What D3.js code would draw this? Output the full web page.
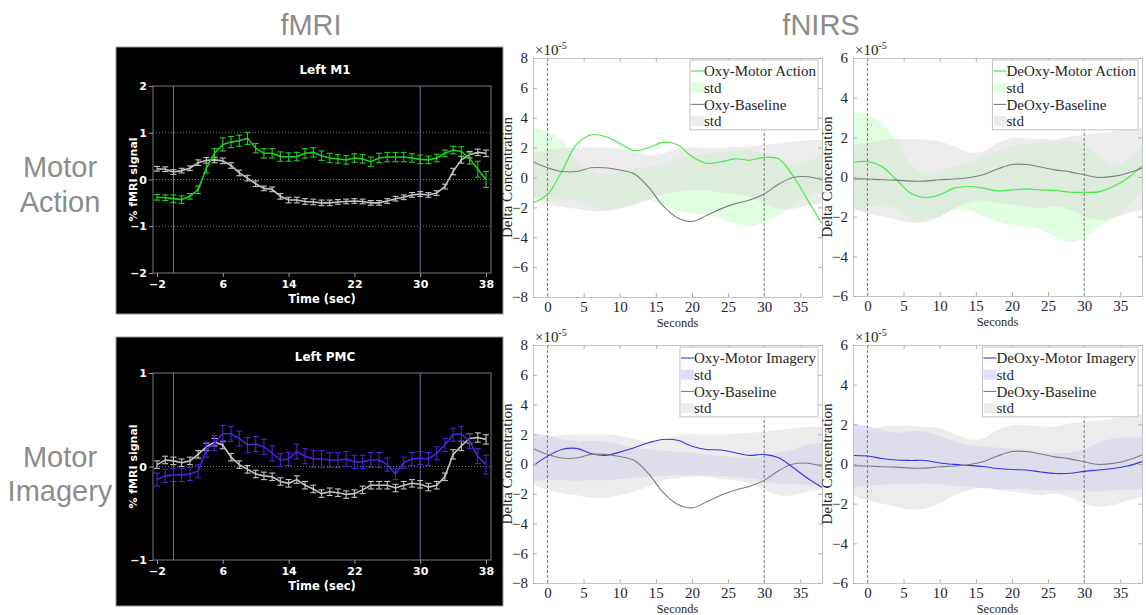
<!DOCTYPE html>
<html>
<head>
<meta charset="utf-8">
<script src="https://cdn.jsdelivr.net/npm/d3@7"></script>
<style>
body { margin: 0; background: #fff; }
svg { display: block; }
</style>
</head>
<body>
<script>
// ---- fMRI data (percent signal, one point per second from -2 to 38) ----
const fmriTime = d3.range(-2, 39)
const fmriTicks = [-2, 6, 14, 22, 30, 38]

const m1Action = [-0.38,-0.39,-0.41,-0.43,-0.36,-0.22,0.24,0.56,0.75,0.8,0.83,0.88,
  0.67,0.56,0.56,0.49,0.48,0.49,0.56,0.58,0.51,0.46,0.44,0.42,0.46,0.44,0.38,0.46,0.48,0.48,0.48,0.46,0.43,0.42,0.46,0.56,0.63,0.6,0.45,0.22,0.0]
const m1ActionErr = [0.06,0.06,0.08,0.08,0.06,0.08,0.1,0.1,0.14,0.12,0.12,0.13,
  0.1,0.1,0.1,0.1,0.09,0.09,0.1,0.1,0.1,0.1,0.09,0.09,0.09,0.09,0.1,0.1,0.1,0.1,0.1,0.09,0.09,0.08,0.08,0.07,0.08,0.1,0.12,0.17,0.17]
const m1Base = [0.23,0.22,0.16,0.19,0.24,0.36,0.41,0.42,0.40,0.30,0.14,0.03,
  -0.09,-0.19,-0.21,-0.36,-0.44,-0.44,-0.47,-0.48,-0.5,-0.5,-0.48,-0.47,-0.46,-0.47,-0.5,-0.5,-0.46,-0.41,-0.38,-0.33,-0.31,-0.33,-0.29,-0.15,0.17,0.42,0.53,0.58,0.56]
const m1BaseErr = [0.05,0.05,0.05,0.05,0.05,0.06,0.06,0.06,0.06,0.06,0.06,0.06,
  0.06,0.05,0.05,0.06,0.06,0.06,0.06,0.06,0.06,0.06,0.05,0.05,0.05,0.05,0.05,0.05,0.05,0.05,0.05,0.05,0.05,0.05,0.05,0.05,0.07,0.07,0.07,0.07,0.07]

const pmcImagery = [-0.14,-0.10,-0.09,-0.09,-0.08,-0.05,0.18,0.25,0.35,0.35,0.30,0.23,
  0.24,0.21,0.14,0.07,0.08,0.16,0.11,0.08,0.08,0.07,0.07,0.08,0.05,0.05,0.07,0.07,0.02,-0.08,0.04,0.08,0.09,0.08,0.14,0.23,0.34,0.35,0.27,0.11,0.02]
const pmcImageryErr = [0.07,0.07,0.07,0.07,0.07,0.07,0.08,0.08,0.09,0.08,0.08,0.08,
  0.08,0.08,0.08,0.07,0.07,0.08,0.08,0.09,0.09,0.08,0.08,0.08,0.07,0.07,0.08,0.08,0.07,0.06,0.06,0.07,0.07,0.07,0.07,0.07,0.07,0.08,0.08,0.08,0.1]
const pmcBase = [0.02,0.07,0.06,0.04,0.06,0.13,0.21,0.26,0.23,0.10,0.02,-0.03,
  -0.08,-0.10,-0.11,-0.16,-0.18,-0.14,-0.20,-0.24,-0.29,-0.27,-0.28,-0.30,-0.29,-0.25,-0.20,-0.20,-0.20,-0.23,-0.20,-0.18,-0.19,-0.22,-0.20,-0.11,0.13,0.22,0.30,0.31,0.29]
const pmcBaseErr = [0.04,0.04,0.04,0.04,0.04,0.04,0.04,0.04,0.04,0.04,0.04,0.04,
  0.04,0.04,0.04,0.04,0.04,0.04,0.04,0.04,0.04,0.04,0.04,0.04,0.04,0.04,0.04,0.04,0.04,0.04,0.04,0.04,0.04,0.04,0.04,0.04,0.05,0.05,0.05,0.05,0.05]

// ---- fNIRS data (x1e-5, sampled every 2 s from -2 to 38) ----
const nirsTime = d3.range(-2, 39, 2)

const oxyAction   = [-1.7,-1.15,0.4,2.2,2.85,2.75,2.3,1.8,2.0,2.35,2.2,1.4,0.95,1.05,1.25,1.15,1.35,1.25,0.1,-1.5,-3.1]
const oxyActionHi = [3.3,3.06,2.5,1.16,0.38,0.22,0.38,0.6,0.72,0.9,1.28,1.5,1.6,1.72,1.83,1.79,1.6,1.12,0.83,1.05,1.6]
const oxyActionLo = [-1.3,-1.4,-1.45,-1.5,-1.9,-2.2,-2.0,-1.7,-1.5,-1.9,-2.2,-2.4,-2.5,-2.75,-3.1,-3.3,-3.0,-2.5,-1.85,-1.3,-0.95]

const oxyBase   = [1.05,0.65,0.4,0.4,0.65,0.65,0.5,0.25,-0.65,-1.9,-2.7,-2.95,-2.55,-2.1,-1.75,-1.5,-1.1,-0.45,0.0,0.05,-0.15]
const oxyBaseHi = [1.6,1.83,1.95,2.0,2.0,2.0,1.9,1.72,1.5,1.6,1.95,2.0,2.0,2.0,2.05,2.1,2.17,2.28,2.4,2.5,2.5]
const oxyBaseLo = [-1.4,-1.75,-1.95,-2.1,-2.25,-2.25,-2.1,-1.85,-1.5,-1.1,-0.95,-0.85,-0.85,-1.0,-1.1,-1.3,-1.75,-2.1,-2.1,-1.85,-1.75]

const deoxyAction   = [0.73,0.78,0.53,-0.14,-0.82,-1.03,-0.9,-0.56,-0.48,-0.56,-0.7,-0.65,-0.6,-0.65,-0.68,-0.77,-0.77,-0.75,-0.48,-0.06,0.56]
const deoxyActionHi = [3.25,3.14,2.7,1.88,0.61,0.19,0.28,0.53,0.7,1.04,1.29,1.54,1.68,1.74,1.79,1.79,1.63,1.04,0.61,0.87,1.63]
const deoxyActionLo = [-1.74,-1.57,-1.4,-1.57,-2.07,-2.24,-1.99,-1.66,-1.66,-1.99,-2.24,-2.41,-2.5,-2.66,-3.0,-3.3,-3.08,-2.5,-2.07,-1.49,-0.65]

const deoxyBase   = [-0.1,-0.1,-0.14,-0.16,-0.21,-0.21,-0.14,-0.1,-0.04,0.11,0.4,0.63,0.63,0.5,0.36,0.26,0.11,-0.02,0.03,0.19,0.45]
const deoxyBaseHi = [1.63,1.71,1.88,1.91,1.91,1.88,1.79,1.54,1.24,1.29,1.71,1.96,1.96,1.91,1.88,2.04,2.13,2.21,2.3,2.42,2.47]
const deoxyBaseLo = [-1.57,-1.83,-1.99,-2.16,-2.3,-2.24,-1.99,-1.57,-1.32,-1.19,-1.32,-1.4,-1.49,-1.57,-1.49,-1.66,-1.99,-2.16,-2.07,-1.83,-1.66]

const oxyImagery   = [-0.13,0.53,0.98,1.05,0.71,0.58,0.8,1.09,1.43,1.65,1.6,1.2,0.98,0.94,0.76,0.58,0.65,0.42,-0.24,-0.96,-1.58]
const oxyImageryHi = [2.03,1.92,1.65,1.54,1.54,1.49,1.31,1.09,0.98,0.91,0.82,0.76,0.65,0.53,0.47,0.42,0.53,0.76,0.98,1.31,1.43]
const oxyImageryLo = [-1.14,-1.09,-1.1,-1.14,-1.1,-1.09,-1.0,-0.91,-0.85,-0.8,-0.78,-0.76,-0.78,-0.8,-0.88,-0.96,-1.14,-1.31,-1.36,-1.4,-1.36]

const deoxyImagery   = [0.43,0.4,0.28,0.2,0.18,0.18,0.05,-0.02,-0.07,-0.13,-0.23,-0.28,-0.3,-0.4,-0.48,-0.47,-0.37,-0.3,-0.23,-0.1,0.12]
const deoxyImageryHi = [2.04,1.9,1.74,1.57,1.66,1.62,1.4,1.15,0.95,0.9,0.82,0.74,0.7,0.6,0.57,0.57,0.74,1.07,1.29,1.32,1.32]
const deoxyImageryLo = [-1.19,-1.1,-1.05,-1.02,-1.0,-0.97,-1.02,-1.1,-1.16,-1.22,-1.25,-1.27,-1.3,-1.32,-1.32,-1.32,-1.35,-1.39,-1.32,-1.3,-1.27]

const nirsXTicks = [0, 5, 10, 15, 20, 25, 30, 35]
const eventTimes = [0, 30]

// ---- page ----
const svg = d3.select('body').append('svg')
    .attr('width', 1146)
    .attr('height', 615)

const headFont = '"Liberation Sans", Arial, sans-serif'
const boldFont = '"DejaVu Sans", Verdana, sans-serif'
const serif = '"Liberation Serif", "Times New Roman", serif'

// column headings and row labels
svg.append('text').attr('x', 311).attr('y', 35).text('fMRI')
svg.append('text').attr('x', 821).attr('y', 35).text('fNIRS')
svg.append('text').attr('x', 60).attr('y', 177).text('Motor')
svg.append('text').attr('x', 60).attr('y', 212).text('Action')
svg.append('text').attr('x', 60).attr('y', 467).text('Motor')
svg.append('text').attr('x', 60).attr('y', 501).text('Imagery')
svg.selectAll('text')
    .attr('text-anchor', 'middle')
    .attr('fill', '#8c8c8c')
    .style('font-family', headFont)
    .style('font-size', '29px')

// ---- fMRI panel ----
function fmriPanel(p) {
    const g = svg.append('g')

    g.append('rect')
        .attr('x', p.box[0]).attr('y', p.box[1])
        .attr('width', p.box[2] - p.box[0]).attr('height', p.box[3] - p.box[1])
        .attr('fill', '#000').attr('stroke', '#9a9a9a')

    const x = d3.scaleLinear().domain([-2, 38]).range([157, 486])
    const y = d3.scaleLinear().domain(p.yDomain).range([p.bottom, p.top])

    // dotted grid
    g.selectAll('.grid').data(p.grid).enter().append('line')
        .attr('x1', p.left).attr('x2', p.right)
        .attr('y1', d => y(d)).attr('y2', d => y(d))
        .attr('stroke', '#9a9a9a').attr('stroke-width', 0.8)
        .attr('stroke-dasharray', '1,2')

    // frame
    g.append('rect')
        .attr('x', p.left).attr('y', p.top)
        .attr('width', p.right - p.left).attr('height', p.bottom - p.top)
        .attr('fill', 'none').attr('stroke', '#7a7a7a')

    // onset / offset lines
    g.selectAll('.ev').data(eventTimes).enter().append('line')
        .attr('x1', d => x(d)).attr('x2', d => x(d))
        .attr('y1', p.top).attr('y2', p.bottom)
        .attr('stroke', '#7474a8').attr('stroke-width', 1)

    // axes
    const xAxis = g.append('g')
        .attr('transform', 'translate(0,' + p.bottom + ')')
        .call(d3.axisBottom(x).tickValues(fmriTicks).tickSize(4).tickPadding(3))
    const yAxis = g.append('g')
        .attr('transform', 'translate(' + p.left + ',0)')
        .call(d3.axisLeft(y).tickValues(p.yTicks).tickSize(4).tickPadding(2).tickFormat(d3.format('d')))
    ;[xAxis, yAxis].forEach(a => {
        a.select('.domain').remove()
        a.selectAll('line').attr('stroke', '#9a9a9a')
        a.selectAll('text').attr('fill', '#fff')
            .style('font-family', boldFont).style('font-size', '11px').style('font-weight', 'bold')
    })

    // series with error bars
    const line = d3.line().x((d, i) => x(fmriTime[i])).y(d => y(d))
    p.series.forEach(s => {
        g.append('path')
            .datum(s.values)
            .attr('d', line)
            .attr('fill', 'none').attr('stroke', s.color).attr('stroke-width', 1.6)
        const eb = g.selectAll(null).data(s.values).enter().append('g')
        eb.append('line')
            .attr('x1', (d, i) => x(fmriTime[i])).attr('x2', (d, i) => x(fmriTime[i]))
            .attr('y1', (d, i) => y(d + s.err[i])).attr('y2', (d, i) => y(d - s.err[i]))
        eb.append('line')
            .attr('x1', (d, i) => x(fmriTime[i]) - 3).attr('x2', (d, i) => x(fmriTime[i]) + 3)
            .attr('y1', (d, i) => y(d + s.err[i])).attr('y2', (d, i) => y(d + s.err[i]))
        eb.append('line')
            .attr('x1', (d, i) => x(fmriTime[i]) - 3).attr('x2', (d, i) => x(fmriTime[i]) + 3)
            .attr('y1', (d, i) => y(d - s.err[i])).attr('y2', (d, i) => y(d - s.err[i]))
        eb.selectAll('line').attr('stroke', s.color).attr('stroke-width', 1.1)
    })

    // labels
    g.append('text')
        .attr('x', (p.left + p.right) / 2 + 3).attr('y', p.top - 12)
        .attr('text-anchor', 'middle').attr('fill', '#fff')
        .style('font-family', boldFont).style('font-size', '12px').style('font-weight', 'bold')
        .text(p.title)
    g.append('text')
        .attr('x', (p.left + p.right) / 2).attr('y', p.bottom + 30)
        .attr('text-anchor', 'middle').attr('fill', '#fff')
        .style('font-family', boldFont).style('font-size', '11.5px').style('font-weight', 'bold')
        .text('Time (sec)')
    g.append('text')
        .attr('transform', 'translate(' + (p.left - 16) + ',' + ((p.top + p.bottom) / 2) + ') rotate(-90)')
        .attr('text-anchor', 'middle').attr('fill', '#fff')
        .style('font-family', boldFont).style('font-size', '11px').style('font-weight', 'bold')
        .text('% fMRI signal')
}

fmriPanel({
    box: [116, 47, 503, 314], left: 153, right: 491, top: 86, bottom: 273,
    yDomain: [-2, 2], yTicks: [2, 1, 0, -1, -2], grid: [1, 0, -1], title: 'Left M1',
    series: [
        {values: m1Base, err: m1BaseErr, color: '#c4c4c4'},
        {values: m1Action, err: m1ActionErr, color: '#1fd01f'}
    ]
})
fmriPanel({
    box: [116, 337, 503, 606], left: 153, right: 491, top: 373, bottom: 560,
    yDomain: [-1, 1], yTicks: [1, 0, -1], grid: [0], title: 'Left PMC',
    series: [
        {values: pmcBase, err: pmcBaseErr, color: '#c4c4c4'},
        {values: pmcImagery, err: pmcImageryErr, color: '#4a22d8'}
    ]
})

// ---- fNIRS panel ----
function nirsPanel(p) {
    const g = svg.append('g')
    const x = d3.scaleLinear().domain([-2, 38]).range([p.left, p.right])
    const y = d3.scaleLinear().domain([-p.yMax, p.yMax]).range([p.bottom, p.top])
    const yTicks = d3.range(-p.yMax, p.yMax + 1, 2)

    g.append('rect')
        .attr('x', p.left).attr('y', p.top)
        .attr('width', p.right - p.left).attr('height', p.bottom - p.top)
        .attr('fill', '#fff')

    const area = d3.area().curve(d3.curveCatmullRom.alpha(0.5))
        .x((d, i) => x(nirsTime[i]))
    const line = d3.line().curve(d3.curveCatmullRom.alpha(0.5))
        .x((d, i) => x(nirsTime[i])).y(d => y(d))

    // std bands: colored first, baseline gray on top
    g.append('path').datum(p.hi)
        .attr('d', area.y0((d, i) => y(p.lo[i])).y1(d => y(d)))
        .attr('fill', p.band).attr('fill-opacity', 0.6)
    g.append('path').datum(p.baseHi)
        .attr('d', area.y0((d, i) => y(p.baseLo[i])).y1(d => y(d)))
        .attr('fill', '#dcdcdc').attr('fill-opacity', 0.55)

    // dashed event lines
    g.selectAll('.ev').data(eventTimes).enter().append('line')
        .attr('x1', d => x(d)).attr('x2', d => x(d))
        .attr('y1', p.top).attr('y2', p.bottom)
        .attr('stroke', '#6a6a6a').attr('stroke-width', 0.9)
        .attr('stroke-dasharray', '3,2')

    g.append('path').datum(p.values)
        .attr('d', line).attr('fill', 'none')
        .attr('stroke', p.color).attr('stroke-width', 1.1)
    g.append('path').datum(p.base)
        .attr('d', line).attr('fill', 'none')
        .attr('stroke', '#7d7d7d').attr('stroke-width', 1.1)

    // axes with inward ticks on all four sides
    const axes = [
        g.append('g').attr('transform', 'translate(0,' + p.bottom + ')')
            .call(d3.axisBottom(x).tickValues(nirsXTicks).tickSizeInner(-4).tickSizeOuter(0).tickPadding(4)),
        g.append('g').attr('transform', 'translate(0,' + p.top + ')')
            .call(d3.axisTop(x).tickValues(nirsXTicks).tickSizeInner(-4).tickSizeOuter(0).tickFormat('')),
        g.append('g').attr('transform', 'translate(' + p.left + ',0)')
            .call(d3.axisLeft(y).tickValues(yTicks).tickSizeInner(-4).tickSizeOuter(0).tickPadding(5)),
        g.append('g').attr('transform', 'translate(' + p.right + ',0)')
            .call(d3.axisRight(y).tickValues(yTicks).tickSizeInner(-4).tickSizeOuter(0).tickFormat(''))
    ]
    axes.forEach(a => {
        a.select('.domain').attr('stroke', '#c4c4c4')
        a.selectAll('.tick line').attr('stroke', '#b0b0b0')
        a.selectAll('text').attr('fill', '#262626')
            .style('font-family', serif).style('font-size', '15px')
    })

    // exponent note
    const ex = g.append('text')
        .attr('x', p.left + 2).attr('y', p.top - 3)
        .attr('fill', '#262626')
        .style('font-family', serif).style('font-size', '15px')
    ex.append('tspan').text('\u00d710')
    ex.append('tspan').attr('dy', -6).style('font-size', '10px').text('-5')

    g.append('text')
        .attr('x', (p.left + p.right) / 2).attr('y', p.bottom + 30)
        .attr('text-anchor', 'middle').attr('fill', '#262626')
        .style('font-family', serif).style('font-size', '12.5px')
        .text('Seconds')
    g.append('text')
        .attr('transform', 'translate(' + (p.left - 21) + ',' + ((p.top + p.bottom) / 2) + ') rotate(-90)')
        .attr('text-anchor', 'middle').attr('fill', '#262626')
        .style('font-family', serif).style('font-size', '15px')
        .text('Delta Concentration')

    // legend
    const entries = [
        {label: p.names[0], kind: 'line', color: p.color},
        {label: 'std', kind: 'patch', color: p.band, op: 0.6},
        {label: p.names[1], kind: 'line', color: '#7d7d7d'},
        {label: 'std', kind: 'patch', color: '#dcdcdc', op: 0.55}
    ]
    const lg = g.append('g')
    const box = lg.append('rect')
    const rowH = 16.7
    const top = p.top + 2
    const texts = lg.selectAll('text').data(entries).enter().append('text')
        .attr('y', (d, i) => top + 11 + i * rowH)
        .attr('dy', '0.35em')
        .attr('fill', '#262626')
        .style('font-family', serif).style('font-size', '15px')
        .text(d => d.label)
    const textW = d3.max(texts.nodes(), n => n.getComputedTextLength())
    const right = p.right - 4
    const left = right - (textW + 16)
    texts.attr('x', left + 14)
    box.attr('x', left).attr('y', top)
        .attr('width', right - left).attr('height', rowH * 4 + 3)
        .attr('fill', '#fff').attr('stroke', '#c4c4c4')
    entries.forEach((d, i) => {
        const cy = top + 11 + i * rowH
        if (d.kind === 'line') {
            lg.append('line').attr('x1', left + 1).attr('x2', left + 14)
                .attr('y1', cy).attr('y2', cy)
                .attr('stroke', d.color).attr('stroke-width', 1.1)
        } else {
            lg.append('rect').attr('x', left + 1).attr('y', cy - 5)
                .attr('width', 13).attr('height', 10)
                .attr('fill', d.color).attr('fill-opacity', d.op)
        }
    })
}

nirsPanel({
    left: 533, right: 822, top: 58, bottom: 297, yMax: 8,
    values: oxyAction, hi: oxyActionHi, lo: oxyActionLo,
    base: oxyBase, baseHi: oxyBaseHi, baseLo: oxyBaseLo,
    color: '#3ded3d', band: '#ccffcc', names: ['Oxy-Motor Action', 'Oxy-Baseline']
})
nirsPanel({
    left: 853, right: 1142, top: 58, bottom: 296, yMax: 6,
    values: deoxyAction, hi: deoxyActionHi, lo: deoxyActionLo,
    base: deoxyBase, baseHi: deoxyBaseHi, baseLo: deoxyBaseLo,
    color: '#3ded3d', band: '#ccffcc', names: ['DeOxy-Motor Action', 'DeOxy-Baseline']
})
nirsPanel({
    left: 533, right: 822, top: 345, bottom: 583, yMax: 8,
    values: oxyImagery, hi: oxyImageryHi, lo: oxyImageryLo,
    base: oxyBase, baseHi: oxyBaseHi, baseLo: oxyBaseLo,
    color: '#3434f0', band: '#c8c8ff', names: ['Oxy-Motor Imagery', 'Oxy-Baseline']
})
nirsPanel({
    left: 853, right: 1142, top: 345, bottom: 583, yMax: 6,
    values: deoxyImagery, hi: deoxyImageryHi, lo: deoxyImageryLo,
    base: deoxyBase, baseHi: deoxyBaseHi, baseLo: deoxyBaseLo,
    color: '#3434f0', band: '#c8c8ff', names: ['DeOxy-Motor Imagery', 'DeOxy-Baseline']
})
</script>
</body>
</html>
